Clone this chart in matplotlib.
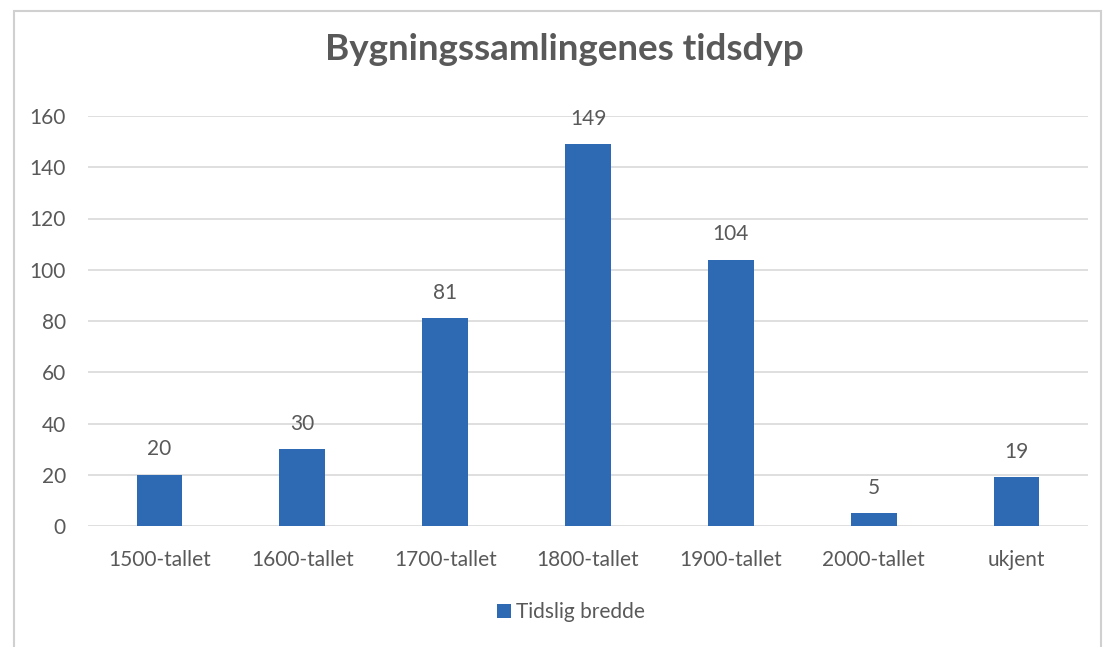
import matplotlib
matplotlib.use("Agg")
import matplotlib.pyplot as plt
from matplotlib.patches import Rectangle

categories = ["1500-tallet", "1600-tallet", "1700-tallet", "1800-tallet", "1900-tallet", "2000-tallet", "ukjent"]
values = [20, 30, 81, 149, 104, 5, 19]
yticks = [0, 20, 40, 60, 80, 100, 120, 140, 160]
title = "Bygningssamlingenes tidsdyp"
series_name = "Tidslig bredde"

plt.rcParams['font.family'] = ['Lato', 'DejaVu Sans']
bar_color = "#2E6AB3"
text_color = "#595959"
fs = 15

fig = plt.figure(figsize=(11.09, 6.47), dpi=100)
fig.patch.set_facecolor("white")
W, H = 1109, 647

ax = fig.add_axes([88 / W, 1 - 526 / H, 1000 / W, 410 / H])
x = list(range(len(categories)))
bars = ax.bar(x, values, width=0.32, color=bar_color, label=series_name, zorder=3)

ax.set_xlim(-0.5, len(categories) - 0.5)
ax.set_ylim(0, 160)
ax.set_yticks(yticks)
ax.set_xticks(x)
ax.set_xticklabels(categories)
ax.yaxis.grid(True, color="#D9D9D9", linewidth=1.2, zorder=0)
for s in ax.spines.values():
    s.set_visible(False)
ax.tick_params(axis='both', length=0, labelsize=fs, labelcolor=text_color)
ax.tick_params(axis='y', pad=16)
ax.tick_params(axis='x', pad=17)

for xi, v in zip(x, values):
    ax.annotate(str(v), (xi, v), xytext=(0, 14), textcoords='offset points',
                ha='center', va='baseline', fontsize=fs, color=text_color)

fig.text(564 / W, 1 - 50 / H, title, ha='center', va='center', fontsize=26.5,
         fontweight='bold', color=text_color)

fig.legend(handles=[bars], labels=[series_name], loc='center', bbox_to_anchor=(571 / W, 1 - 612 / H),
           frameon=False, fontsize=fs, labelcolor=text_color, handlelength=0.65, handleheight=0.65,
           handletextpad=0.25)

# outer border
fig.patches.append(Rectangle((14 / W, -0.01), (1101 - 14) / W, 1 - 11 / H + 0.01, transform=fig.transFigure,
                             fill=False, edgecolor="#D0D0D0", linewidth=1.5))

fig.savefig("out.png", dpi=100, facecolor="white")
